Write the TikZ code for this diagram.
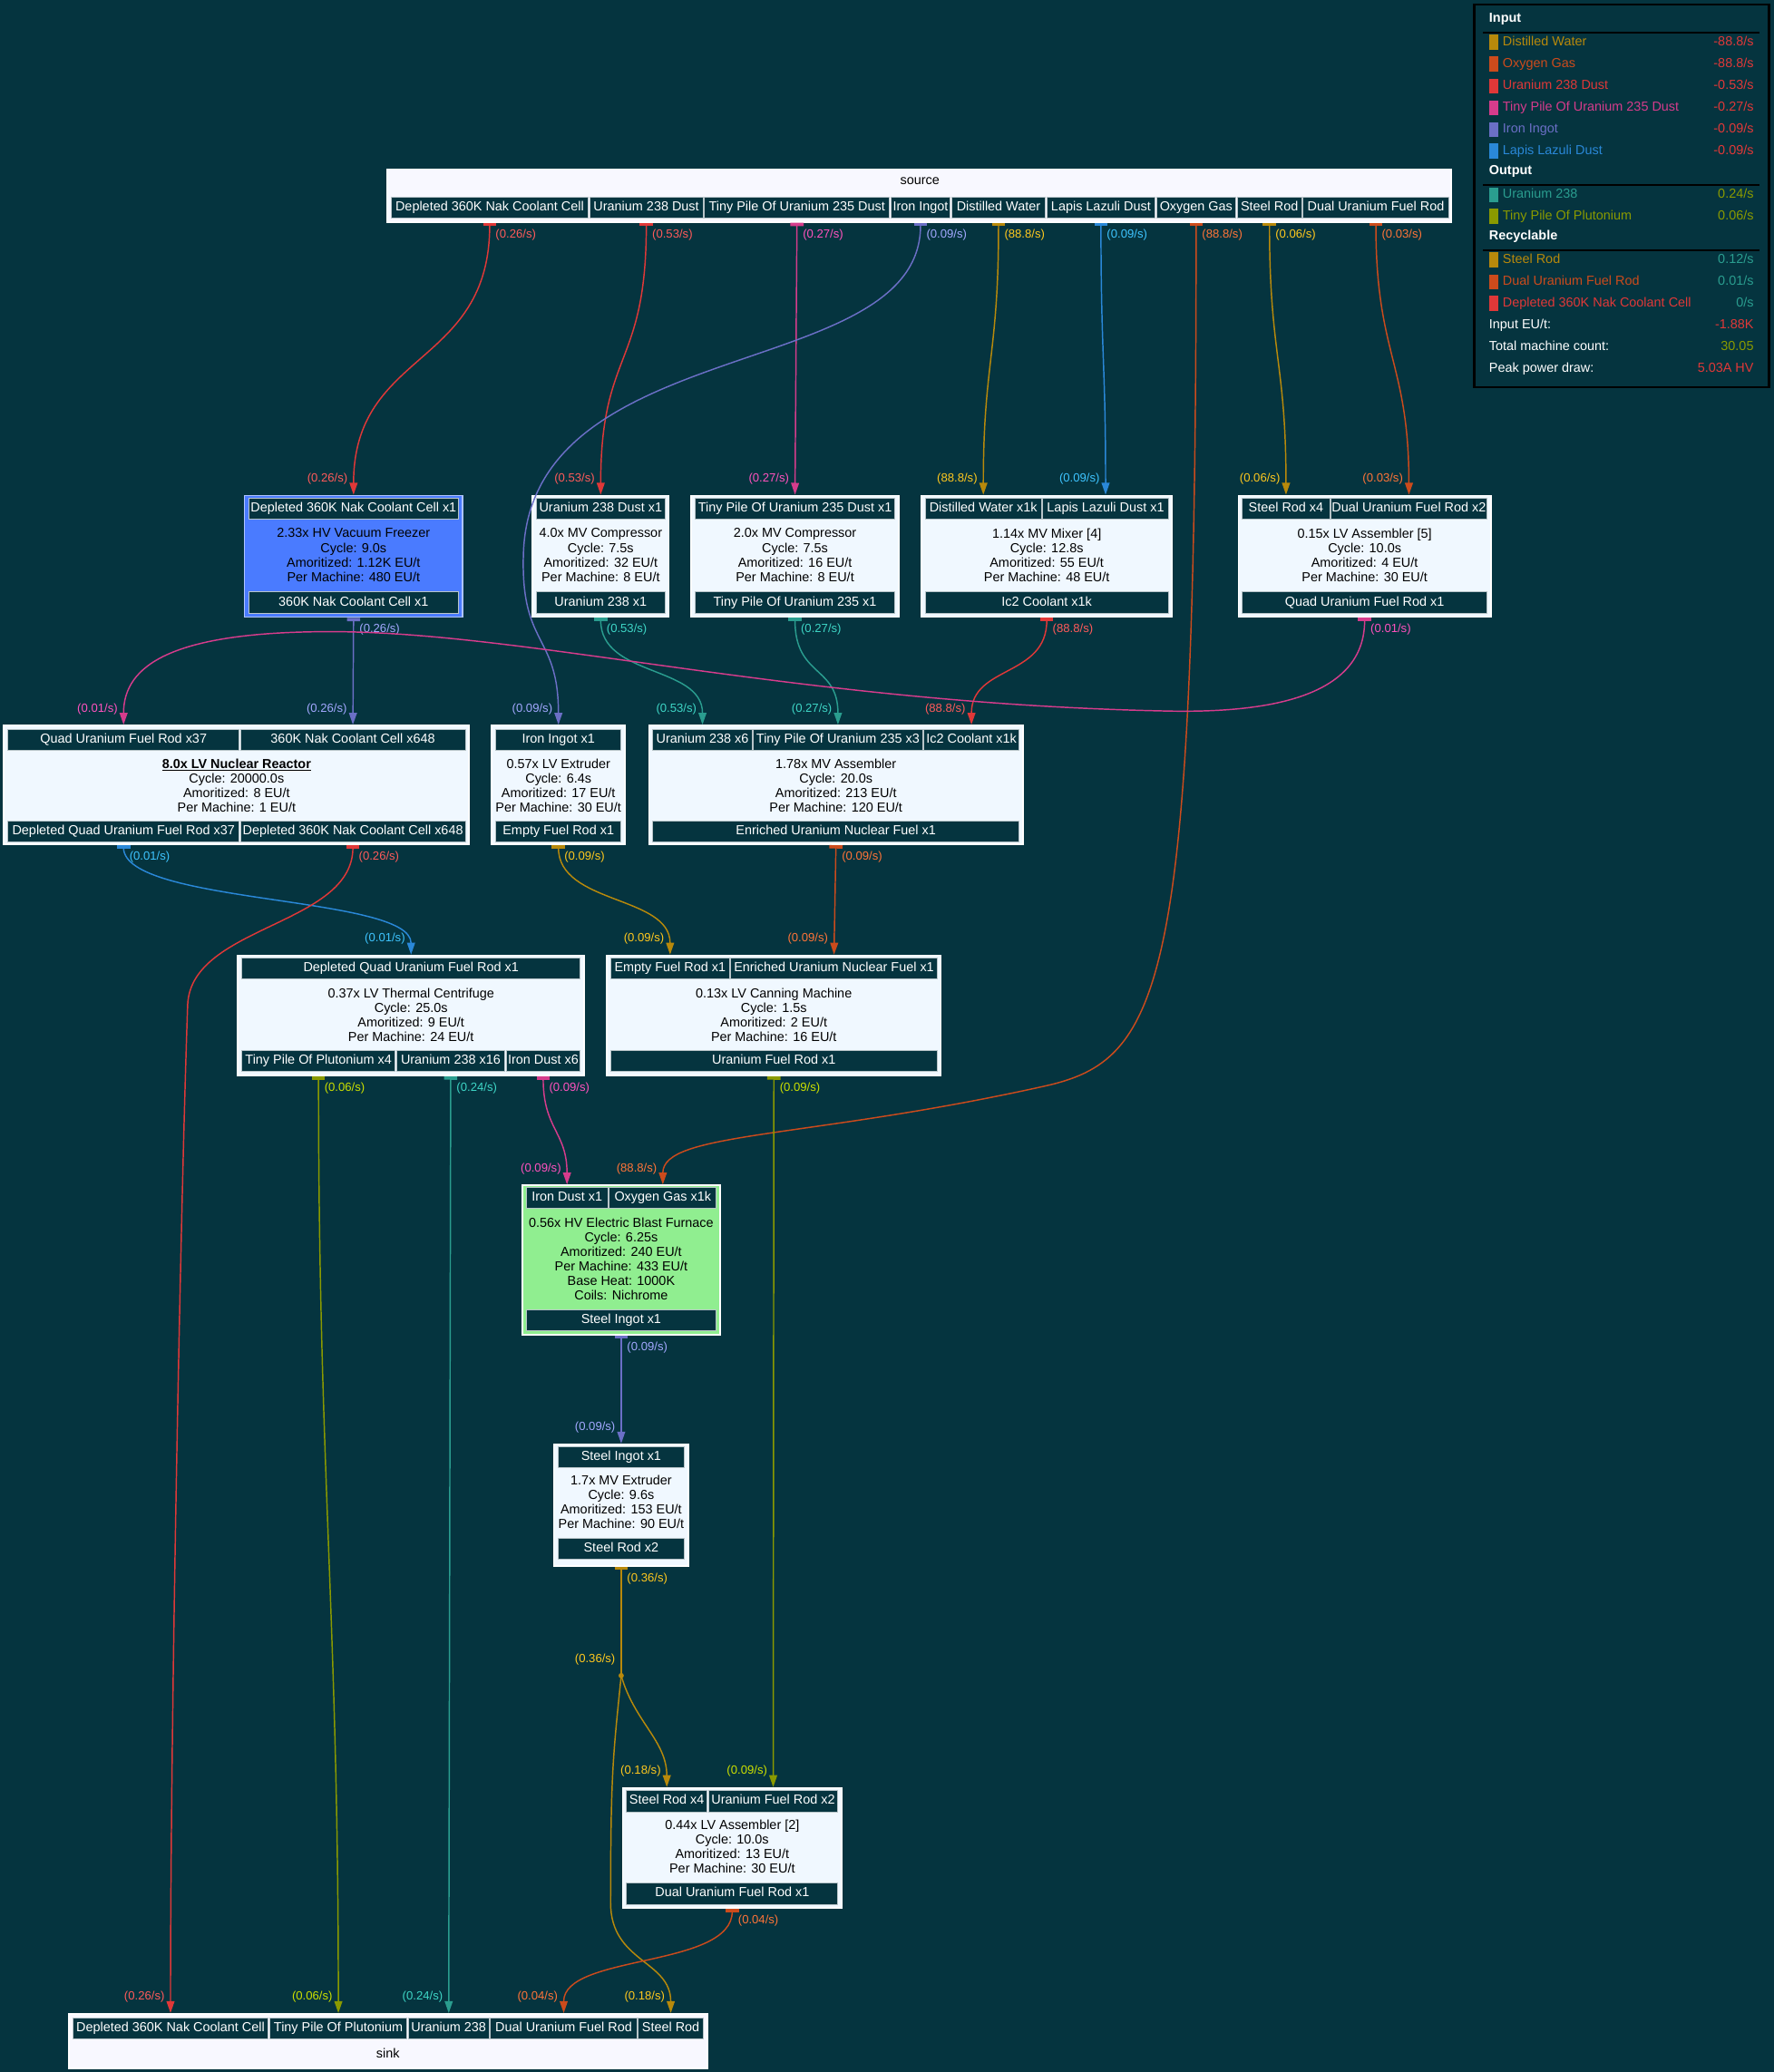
\documentclass[tikz,border=0pt]{standalone}
\usepackage{fontspec}
\setmainfont{Liberation Sans}
\usetikzlibrary{arrows.meta}

\definecolor{bgc}{HTML}{05343F}
\definecolor{nodefill}{HTML}{F0F8FF}
\definecolor{srcfill}{HTML}{F8F8FF}
\definecolor{freezer}{HTML}{4A7BFF}
\definecolor{ebfgreen}{HTML}{90EE90}
\definecolor{cellline}{HTML}{B8C4C8}
% edge colours (E) and label colours (L)
\definecolor{redE}{HTML}{E03838}
\definecolor{redL}{HTML}{FF5A5A}
\definecolor{pinkE}{HTML}{D63C8C}
\definecolor{pinkL}{HTML}{FF52BE}
\definecolor{periE}{HTML}{6B6FC6}
\definecolor{periL}{HTML}{A2A8FF}
\definecolor{goldE}{HTML}{B8890B}
\definecolor{goldL}{HTML}{FFC81E}
\definecolor{blueE}{HTML}{2A88D8}
\definecolor{blueL}{HTML}{3EC4FF}
\definecolor{orangeE}{HTML}{CC4B1C}
\definecolor{orangeL}{HTML}{FF7438}
\definecolor{tealE}{HTML}{2A9D8F}
\definecolor{tealL}{HTML}{3ED6C6}
\definecolor{oliveE}{HTML}{8A9A00}
\definecolor{oliveL}{HTML}{CCE000}

\tikzset{
  txt/.style={font=\fontsize{9.9}{11}\selectfont, inner sep=0pt},
  cell/.style={txt, rectangle, draw=cellline, line width=0.6pt, fill=bgc, text=white,
    minimum height=16pt, text height=7.2pt, text depth=2.2pt},
  mbox/.style={rectangle, draw=white, line width=1.2pt, fill=nodefill, inner sep=0pt},
  frbox/.style={mbox, fill=freezer, draw=freezer!45!white},
  ebfbox/.style={mbox, fill=ebfgreen},
  srcbox/.style={mbox, fill=srcfill},
  mtext/.style={txt, align=center, text=black},
  teetip/.style={{Bar[width=10pt,line width=2.5pt]}-{Triangle[width=6pt,length=9pt]}},
  tee/.style={{Bar[width=10pt,line width=2.5pt]}-},
  tip/.style={-{Triangle[width=6pt,length=9pt]}},
  flow/.style={draw=#1E, line width=1pt, teetip,
    every node/.style={font=\fontsize{9}{10}\selectfont, inner sep=0pt, text=#1L}},
  tl/.style={anchor=west, xshift=4pt, yshift=-9pt},
  hl/.style={anchor=east, xshift=-4pt, yshift=12pt},
  lgitem/.style={txt, anchor=west, text height=7.2pt, text depth=2.2pt},
  lgval/.style={txt, anchor=east, text height=7.2pt, text depth=2.2pt},
  lghead/.style={lgitem, text=white, font=\fontsize{9.9}{11}\selectfont\bfseries},
}

% box: name, x1, y1, x2, y2, style
\newcommand{\machine}[6]{\node[#6, minimum width={#4-#2}, minimum height={#5-#3}] (#1) at ({(#2+#4)/2},{(#3+#5)/2}) {};}
% port cell: name, x1, x2, y, text
\newcommand{\portcell}[5]{\node[cell, minimum width={#3-#2}] (#1) at ({(#2+#3)/2},#4) {#5};}

\begin{document}
\begin{tikzpicture}[x=1pt,y=-1pt]
  \useasboundingbox (0,0) rectangle (1342,1568);
  \fill[bgc] (0,0) rectangle (1342,1568);

  % source
  \machine{src}{293}{128}{1098}{168}{srcbox}
  \node[mtext] (src-t) at (696,137) {source};
  \portcell{s-dep}{296}{445}{157}{Depleted 360K Nak Coolant Cell}
  \portcell{s-u8d}{446}{532}{157}{Uranium 238 Dust}
  \portcell{s-u5d}{533}{673}{157}{Tiny Pile Of Uranium 235 Dust}
  \portcell{s-fe}{674}{719}{157}{Iron Ingot}
  \portcell{s-dw}{720}{791}{157}{Distilled Water}
  \portcell{s-lap}{792}{874}{157}{Lapis Lazuli Dust}
  \portcell{s-ox}{875}{935}{157}{Oxygen Gas}
  \portcell{s-sr}{936}{985}{157}{Steel Rod}
  \portcell{s-dual}{986}{1096}{157}{Dual Uranium Fuel Rod}

  % first row
  \machine{fr}{185}{375}{350}{467}{frbox}
  \portcell{fr-i}{188}{347}{385}{Depleted 360K Nak Coolant Cell x1}
  \node[mtext] (fr-t) at (267.5,420) {2.33x HV Vacuum Freezer\\Cycle: 9.0s\\Amoritized: 1.12K EU/t\\Per Machine: 480 EU/t};
  \portcell{fr-o}{188}{347}{456}{360K Nak Coolant Cell x1}

  \machine{cu}{403}{375}{506}{467}{mbox}
  \portcell{cu-i}{406}{503}{385}{Uranium 238 Dust x1}
  \node[mtext] (cu-t) at (454.5,420) {4.0x MV Compressor\\Cycle: 7.5s\\Amoritized: 32 EU/t\\Per Machine: 8 EU/t};
  \portcell{cu-o}{406}{503}{456}{Uranium 238 x1}

  \machine{ct}{523}{375}{680}{467}{mbox}
  \portcell{ct-i}{526}{677}{385}{Tiny Pile Of Uranium 235 Dust x1}
  \node[mtext] (ct-t) at (601.5,420) {2.0x MV Compressor\\Cycle: 7.5s\\Amoritized: 16 EU/t\\Per Machine: 8 EU/t};
  \portcell{ct-o}{526}{677}{456}{Tiny Pile Of Uranium 235 x1}

  \machine{mx}{697}{375}{887}{467}{mbox}
  \portcell{mx-i1}{700}{788}{385}{Distilled Water x1k}
  \portcell{mx-i2}{789}{884}{385}{Lapis Lazuli Dust x1}
  \node[mtext] (mx-t) at (792,420) {1.14x MV Mixer [4]\\Cycle: 12.8s\\Amoritized: 55 EU/t\\Per Machine: 48 EU/t};
  \portcell{mx-o}{700}{884}{456}{Ic2 Coolant x1k}

  \machine{as5}{937}{375}{1128}{467}{mbox}
  \portcell{as5-i1}{940}{1006}{385}{Steel Rod x4}
  \portcell{as5-i2}{1007}{1125}{385}{Dual Uranium Fuel Rod x2}
  \node[mtext] (as5-t) at (1032.5,420) {0.15x LV Assembler [5]\\Cycle: 10.0s\\Amoritized: 4 EU/t\\Per Machine: 30 EU/t};
  \portcell{as5-o}{940}{1125}{456}{Quad Uranium Fuel Rod x1}

  % second row
  \machine{re}{3}{549}{355}{639}{mbox}
  \portcell{re-i1}{6}{181}{560}{Quad Uranium Fuel Rod x37}
  \portcell{re-i2}{182}{352}{560}{360K Nak Coolant Cell x648}
  \node[mtext] (re-t) at (179,594.5) {\underline{\textbf{8.0x LV Nuclear Reactor}}\\Cycle: 20000.0s\\Amoritized: 8 EU/t\\Per Machine: 1 EU/t};
  \portcell{re-o1}{6}{181}{629}{Depleted Quad Uranium Fuel Rod x37}
  \portcell{re-o2}{182}{352}{629}{Depleted 360K Nak Coolant Cell x648}

  \machine{ex}{372}{549}{473}{639}{mbox}
  \portcell{ex-i}{375}{470}{560}{Iron Ingot x1}
  \node[mtext] (ex-t) at (422.5,594.5) {0.57x LV Extruder\\Cycle: 6.4s\\Amoritized: 17 EU/t\\Per Machine: 30 EU/t};
  \portcell{ex-o}{375}{470}{629}{Empty Fuel Rod x1}

  \machine{ase}{491}{549}{774}{639}{mbox}
  \portcell{ase-i1}{494}{569}{560}{Uranium 238 x6}
  \portcell{ase-i2}{570}{698}{560}{Tiny Pile Of Uranium 235 x3}
  \portcell{ase-i3}{699}{771}{560}{Ic2 Coolant x1k}
  \node[mtext] (ase-t) at (632.5,594.5) {1.78x MV Assembler\\Cycle: 20.0s\\Amoritized: 213 EU/t\\Per Machine: 120 EU/t};
  \portcell{ase-o}{494}{771}{629}{Enriched Uranium Nuclear Fuel x1}

  % third row
  \machine{tc}{180}{723}{442}{814}{mbox}
  \portcell{tc-i}{183}{439}{733}{Depleted Quad Uranium Fuel Rod x1}
  \node[mtext] (tc-t) at (311,768) {0.37x LV Thermal Centrifuge\\Cycle: 25.0s\\Amoritized: 9 EU/t\\Per Machine: 24 EU/t};
  \portcell{tc-o1}{183}{299}{803}{Tiny Pile Of Plutonium x4}
  \portcell{tc-o2}{300}{382}{803}{Uranium 238 x16}
  \portcell{tc-o3}{383}{439}{803}{Iron Dust x6}

  \machine{cn}{459}{723}{712}{814}{mbox}
  \portcell{cn-i1}{462}{552}{733}{Empty Fuel Rod x1}
  \portcell{cn-i2}{553}{709}{733}{Enriched Uranium Nuclear Fuel x1}
  \node[mtext] (cn-t) at (585.5,768) {0.13x LV Canning Machine\\Cycle: 1.5s\\Amoritized: 2 EU/t\\Per Machine: 16 EU/t};
  \portcell{cn-o}{462}{709}{803}{Uranium Fuel Rod x1}

  \machine{ebf}{395}{897}{545}{1010}{ebfbox}
  \portcell{ebf-i1}{398}{460}{906.5}{Iron Dust x1}
  \portcell{ebf-i2}{461}{542}{906.5}{Oxygen Gas x1k}
  \node[mtext] (ebf-t) at (470,952.5) {0.56x HV Electric Blast Furnace\\Cycle: 6.25s\\Amoritized: 240 EU/t\\Per Machine: 433 EU/t\\Base Heat: 1000K\\Coils: Nichrome};
  \portcell{ebf-o}{398}{542}{999}{Steel Ingot x1}

  \machine{ex2}{419}{1093}{521}{1185}{mbox}
  \portcell{ex2-i}{422}{518}{1102.5}{Steel Ingot x1}
  \node[mtext] (ex2-t) at (470,1136.5) {1.7x MV Extruder\\Cycle: 9.6s\\Amoritized: 153 EU/t\\Per Machine: 90 EU/t};
  \portcell{ex2-o}{422}{518}{1172}{Steel Rod x2}

  \machine{as2}{471}{1353}{637}{1444}{mbox}
  \portcell{as2-i1}{474}{535}{1363}{Steel Rod x4}
  \portcell{as2-i2}{536}{634}{1363}{Uranium Fuel Rod x2}
  \node[mtext] (as2-t) at (554,1397.5) {0.44x LV Assembler [2]\\Cycle: 10.0s\\Amoritized: 13 EU/t\\Per Machine: 30 EU/t};
  \portcell{as2-o}{474}{634}{1433}{Dual Uranium Fuel Rod x1}

  % sink
  \machine{snk}{52}{1524}{535}{1565}{srcbox}
  \portcell{k-dep}{55}{203}{1535}{Depleted 360K Nak Coolant Cell}
  \portcell{k-pu}{204}{308}{1535}{Tiny Pile Of Plutonium}
  \portcell{k-u8}{309}{370}{1535}{Uranium 238}
  \portcell{k-dual}{371}{482}{1535}{Dual Uranium Fuel Rod}
  \portcell{k-sr}{483}{532}{1535}{Steel Rod}
  \node[mtext] (snk-t) at (293.5,1554) {sink};

  % flows from source
  \coordinate (w-fe) at (396,420);
  \coordinate (w-ox) at (790,822);
  \draw[flow=red] (s-dep |- src.south) node[tl]{(0.26/s)} .. controls +(0,110) and +(0,-110) .. (fr-i |- fr.north) node[hl]{(0.26/s)};
  \draw[flow=red] (s-u8d |- src.south) node[tl]{(0.53/s)} .. controls +(0,110) and +(0,-110) .. (cu-i |- cu.north) node[hl]{(0.53/s)};
  \draw[flow=pink] (s-u5d |- src.south) node[tl]{(0.27/s)} -- (ct-i |- ct.north) node[hl]{(0.27/s)};
  \draw[flow=peri] (s-fe |- src.south) node[tl]{(0.09/s)} .. controls +(0,122) and +(4,-170) .. (w-fe) .. controls +(-2,70) and +(0,-69) .. (ex-i |- ex.north) node[hl]{(0.09/s)};
  \draw[flow=gold] (s-dw |- src.south) node[tl]{(88.8/s)} .. controls +(0,100) and +(0,-100) .. (mx-i1 |- mx.north) node[hl]{(88.8/s)};
  \draw[flow=blue] (s-lap |- src.south) node[tl]{(0.09/s)} .. controls +(0,100) and +(0,-100) .. (mx-i2 |- mx.north) node[hl]{(0.09/s)};
  \draw[flow=orange] (s-ox |- src.south) node[tl]{(88.8/s)} .. controls +(0,580) and +(90,-20) .. (w-ox) .. controls +(-180,40) and +(0,-40) .. (ebf-i2 |- ebf.north) node[hl]{(88.8/s)};
  \draw[flow=gold] (s-sr |- src.south) node[tl]{(0.06/s)} .. controls +(0,100) and +(0,-100) .. (as5-i1 |- as5.north) node[hl]{(0.06/s)};
  \draw[flow=orange] (s-dual |- src.south) node[tl]{(0.03/s)} .. controls +(0,100) and +(0,-100) .. (as5-i2 |- as5.north) node[hl]{(0.03/s)};

  % first row to second row
  \coordinate (w-q1) at (880,538);
  \coordinate (w-q2) at (250,478);
  \draw[flow=peri] (fr-o |- fr.south) node[tl]{(0.26/s)} -- (re-i2 |- re.north) node[hl]{(0.26/s)};
  \draw[flow=teal] (cu-o |- cu.south) node[tl]{(0.53/s)} .. controls +(0,45) and +(0,-45) .. (ase-i1 |- ase.north) node[hl]{(0.53/s)};
  \draw[flow=teal] (ct-o |- ct.south) node[tl]{(0.27/s)} .. controls +(0,45) and +(0,-45) .. (ase-i2 |- ase.north) node[hl]{(0.27/s)};
  \draw[flow=red] (mx-o |- mx.south) node[tl]{(88.8/s)} .. controls +(0,45) and +(0,-45) .. (ase-i3 |- ase.north) node[hl]{(88.8/s)};
  \draw[flow=pink] (as5-o |- as5.south) node[tl]{(0.01/s)} .. controls +(0,60) and +(80,2) .. (w-q1) .. controls +(-280,-6) and +(150,0) .. (w-q2) .. controls +(-120,0) and +(0,-45) .. (re-i1 |- re.north) node[hl]{(0.01/s)};

  % second row onwards
  \coordinate (w-d) at (142,760);
  \draw[flow=blue] (re-o1 |- re.south) node[tl]{(0.01/s)} .. controls +(0,45) and +(0,-45) .. (tc-i |- tc.north) node[hl]{(0.01/s)};
  \draw[flow=red] (re-o2 |- re.south) node[tl]{(0.26/s)} .. controls +(0,61) and +(3,-60) .. (w-d) .. controls +(-5,140) and +(0,-224) .. (k-dep |- snk.north) node[hl]{(0.26/s)};
  \draw[flow=gold] (ex-o |- ex.south) node[tl]{(0.09/s)} .. controls +(0,45) and +(0,-45) .. (cn-i1 |- cn.north) node[hl]{(0.09/s)};
  \draw[flow=orange] (ase-o |- ase.south) node[tl]{(0.09/s)} -- (cn-i2 |- cn.north) node[hl]{(0.09/s)};

  \draw[flow=olive] (tc-o1 |- tc.south) node[tl]{(0.06/s)} .. controls +(0,300) and +(0,-300) .. (k-pu |- snk.north) node[hl]{(0.06/s)};
  \draw[flow=teal] (tc-o2 |- tc.south) node[tl]{(0.24/s)} -- (k-u8 |- snk.north) node[hl]{(0.24/s)};
  \draw[flow=pink] (tc-o3 |- tc.south) node[tl]{(0.09/s)} .. controls +(0,40) and +(0,-40) .. (ebf-i1 |- ebf.north) node[hl]{(0.09/s)};
  \draw[flow=olive] (cn-o |- cn.south) node[tl]{(0.09/s)} -- (as2-i2 |- as2.north) node[hl]{(0.09/s)};
  \draw[flow=peri] (ebf-o |- ebf.south) node[tl]{(0.09/s)} -- (ex2-i |- ex2.north) node[hl]{(0.09/s)};

  % steel rod split
  \coordinate (jn) at (470,1268);
  \coordinate (w-s) at (462,1440);
  \draw[flow=gold, tee] (ex2-o |- ex2.south) node[tl]{(0.36/s)} -- (jn) node[hl]{(0.36/s)};
  \fill[goldE] (jn) circle (2pt);
  \draw[flow=gold, tip] (jn) .. controls +(10,35) and +(0,-35) .. (as2-i1 |- as2.north) node[hl]{(0.18/s)};
  \draw[flow=gold, tip] (jn) .. controls +(-6,60) and +(0,-100) .. (w-s) .. controls +(0,45) and +(0,-40) .. (k-sr |- snk.north) node[hl]{(0.18/s)};
  \draw[flow=orange] (as2-o |- as2.south) node[tl]{(0.04/s)} .. controls +(0,45) and +(0,-45) .. (k-dual |- snk.north) node[hl]{(0.04/s)};

  % legend
  \node[rectangle, draw=black, line width=1.5pt, fill=bgc, minimum width=223, minimum height=289.5] (legend) at (1226.9,148.2) {};
  \node[lghead] (lg-in) at (1126.5,14.2) {Input};
  \node[lghead] (lg-out) at (1126.5,129.7) {Output};
  \node[lghead] (lg-rec) at (1126.5,179.2) {Recyclable};
  \foreach \yy in {24.5,140,189.5}
    \draw[black, line width=1.5pt] (1122,\yy) -- (1331,\yy);
  \foreach \yy/\cc/\nm/\val/\vc [count=\i] in {
      32/goldE/Distilled Water/-88.8/redE,
      48.5/orangeE/Oxygen Gas/-88.8/redE,
      65.2/redE/Uranium 238 Dust/-0.53/redE,
      81.7/pinkE/Tiny Pile Of Uranium 235 Dust/-0.27/redE,
      98/periE/Iron Ingot/-0.09/redE,
      114.4/blueE/Lapis Lazuli Dust/-0.09/redE,
      147.6/tealE/Uranium 238/0.24/oliveE,
      163.8/oliveE/Tiny Pile Of Plutonium/0.06/oliveE,
      196.8/goldE/Steel Rod/0.12/tealE,
      213.3/orangeE/Dual Uranium Fuel Rod/0.01/tealE,
      229.7/redE/Depleted 360K Nak Coolant Cell/0/tealE} {
    \fill[\cc] (1126.5,\yy-5.7) rectangle (1133.8,\yy+5.7);
    \node[lgitem, text=\cc] (lgn-\i) at (1136.8,\yy) {\nm};
    \node[lgval, text=\vc] (lgv-\i) at (1327,\yy) {\val/s};
  }
  \node[lgitem, text=white] (lg-eu) at (1126.5,246.4) {Input EU/t:};
  \node[lgval, text=redE] (lg-euv) at (1327,246.4) {-1.88K};
  \node[lgitem, text=white] (lg-mc) at (1126.5,262.7) {Total machine count:};
  \node[lgval, text=oliveE] (lg-mcv) at (1327,262.7) {30.05};
  \node[lgitem, text=white] (lg-pp) at (1126.5,279.2) {Peak power draw:};
  \node[lgval, text=redE] (lg-ppv) at (1327,279.2) {5.03A HV};
\end{tikzpicture}
\end{document}
